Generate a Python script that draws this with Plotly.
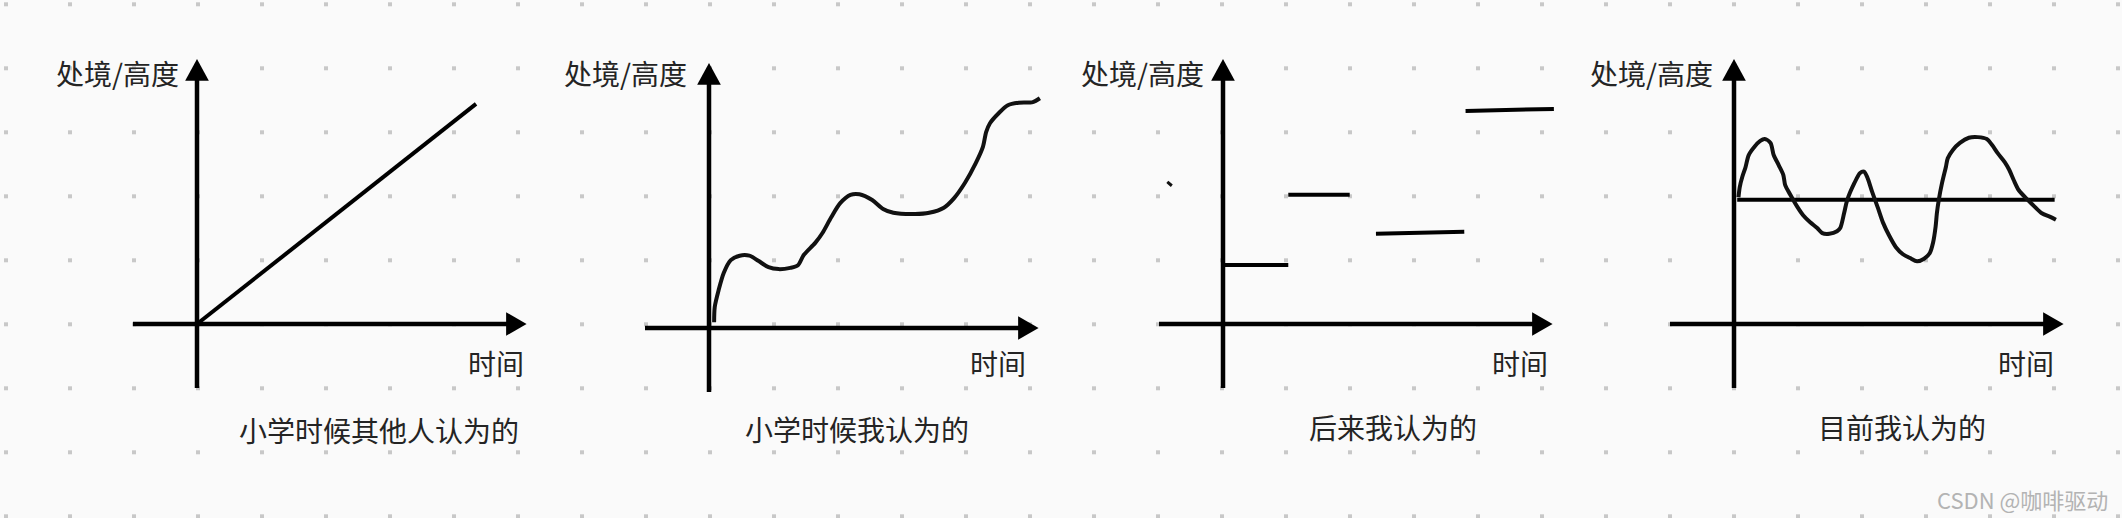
import numpy as np
import plotly.graph_objects as go

W, H = 2122, 518
UNIT = 64  # pixels per grid unit

# ---------------- data (grid units: time, height) ----------------
panel_captions = ["小学时候其他人认为的", "小学时候我认为的", "后来我认为的", "目前我认为的"]
y_label = "处境/高度"
x_label = "时间"

# Panel 1: others' view (straight line)
p1_t = [0.0, 4.36]
p1_h = [0.0, 3.44]

# Panel 2: my view as a child (wavy rise)
p2_t = [0.08, 0.09, 0.15, 0.23, 0.34, 0.48, 0.63, 0.77, 0.93, 1.09, 1.27, 1.39, 1.48,
        1.66, 1.77, 1.91, 2.05, 2.21, 2.35, 2.55, 2.72, 2.88, 3.22, 3.44, 3.67, 3.83,
        4.00, 4.17, 4.28, 4.33, 4.39, 4.53, 4.67, 4.84, 5.06, 5.17]
p2_h = [0.09, 0.33, 0.59, 0.86, 1.06, 1.13, 1.13, 1.05, 0.95, 0.92, 0.94, 0.98, 1.14,
        1.33, 1.48, 1.73, 1.95, 2.08, 2.09, 2.00, 1.86, 1.80, 1.78, 1.80, 1.88, 2.03,
        2.27, 2.58, 2.83, 3.06, 3.20, 3.36, 3.48, 3.52, 3.53, 3.59]

# Panel 3: later view (steps)
p3_seg_t0 = [0.0, 1.02, 2.39, 3.79]
p3_seg_t1 = [1.02, 1.98, 3.77, 5.17]
p3_seg_h0 = [0.92, 2.02, 1.41, 3.33]
p3_seg_h1 = [0.92, 2.02, 1.44, 3.36]
p3_tick_t = [-0.87, -0.80]
p3_tick_h = [2.22, 2.16]

# Panel 4: current view (oscillating around a level)
p4_level_t = [0.05, 5.01]
p4_level_h = [1.94, 1.94]
p4_t = [0.07, 0.09, 0.13, 0.18, 0.23, 0.32, 0.41, 0.48, 0.57, 0.62, 0.70, 0.77, 0.80,
        0.88, 0.99, 1.08, 1.19, 1.30, 1.38, 1.49, 1.61, 1.66, 1.72, 1.77, 1.88, 1.97,
        2.03, 2.08, 2.16, 2.25, 2.33, 2.42, 2.53, 2.64, 2.75, 2.86, 2.97, 3.06, 3.11,
        3.15, 3.17, 3.20, 3.25, 3.31, 3.34, 3.42, 3.53, 3.67, 3.81, 3.95, 4.03, 4.12,
        4.23, 4.30, 4.37, 4.45, 4.59, 4.70, 4.81, 4.95, 5.03]
p4_h = [1.98, 2.14, 2.30, 2.45, 2.64, 2.77, 2.86, 2.89, 2.83, 2.64, 2.48, 2.33, 2.17,
        2.02, 1.83, 1.70, 1.59, 1.50, 1.42, 1.41, 1.45, 1.50, 1.73, 1.94, 2.20, 2.36,
        2.38, 2.30, 2.06, 1.81, 1.58, 1.39, 1.20, 1.09, 1.03, 0.98, 1.02, 1.11, 1.27,
        1.52, 1.73, 1.94, 2.20, 2.45, 2.59, 2.72, 2.83, 2.91, 2.92, 2.89, 2.80, 2.67,
        2.53, 2.41, 2.25, 2.09, 1.94, 1.83, 1.73, 1.67, 1.63]

# ---------------- layout of panels (pixels) ----------------
origins = [(197, 324), (709, 328), (1223, 324), (1734, 324)]
domains_px = [(0, 540), (540, 1070), (1070, 1590), (1590, W)]
ylabel_right_px = [180.5, 689, 1206, 1715]
xlabel_right_px = [526, 1028, 1550, 2056]
caption_center_px = [378.5, 857, 1393, 1902]
caption_y_px = [430, 429, 427, 427]
YLABEL_Y_PX = 72.5
XLABEL_Y_PX = 363

AX_MIN = -1.0
X_BASE, X_TIP = 4.83, 5.15
Y_BASE, Y_TIP = 3.80, 4.14
HALF = 0.185

FONT = "Noto Sans CJK SC"
TXT = "#242424"
LW_AXIS = 4.5
LW_CURVE = 4

fig = go.Figure()

# background dot grid on a full-figure pixel subplot
gx = np.arange(6, W, 64)
gy = np.arange(4.3, H, 64)
GX, GY = np.meshgrid(gx, gy)
fig.add_trace(go.Scatter(x=GX.ravel(), y=GY.ravel(), mode="markers",
                         marker=dict(symbol="square", size=4, color="#c8c8c8", line_width=0),
                         hoverinfo="skip", showlegend=False, xaxis="x", yaxis="y"))

layout_axes = dict(
    xaxis=dict(domain=[0, 1], range=[0, W], visible=False, fixedrange=True),
    yaxis=dict(domain=[0, 1], range=[H, 0], visible=False, fixedrange=True),
)

shapes = []
annotations = []
txt_font = dict(family=FONT, size=28, color=TXT)

for i, ((ox, oy), (a, b)) in enumerate(zip(origins, domains_px)):
    k = i + 2
    xa, ya = f"x{k}", f"y{k}"
    layout_axes[f"xaxis{k}"] = dict(domain=[a / W, b / W], range=[(a - ox) / UNIT, (b - ox) / UNIT],
                                    visible=False, fixedrange=True, anchor=ya)
    layout_axes[f"yaxis{k}"] = dict(domain=[0, 1], range=[(oy - H) / UNIT, oy / UNIT],
                                    visible=False, fixedrange=True, anchor=xa)
    # axes with arrows
    shapes.append(dict(type="line", xref=xa, yref=ya, x0=AX_MIN, y0=0, x1=X_BASE + 0.02, y1=0,
                       line=dict(color="black", width=LW_AXIS)))
    shapes.append(dict(type="line", xref=xa, yref=ya, x0=0, y0=AX_MIN, x1=0, y1=Y_BASE + 0.02,
                       line=dict(color="black", width=LW_AXIS)))
    shapes.append(dict(type="path", xref=xa, yref=ya,
                       path=f"M{X_BASE},{-HALF} L{X_TIP},0 L{X_BASE},{HALF} Z",
                       fillcolor="black", line=dict(width=0)))
    shapes.append(dict(type="path", xref=xa, yref=ya,
                       path=f"M{-HALF},{Y_BASE} L0,{Y_TIP} L{HALF},{Y_BASE} Z",
                       fillcolor="black", line=dict(width=0)))
    annotations.append(dict(xref=xa, yref=ya, x=(ylabel_right_px[i] - ox) / UNIT, y=(oy - YLABEL_Y_PX) / UNIT,
                            text=y_label, showarrow=False, xanchor="right", yanchor="middle", font=txt_font))
    annotations.append(dict(xref=xa, yref=ya, x=(xlabel_right_px[i] - ox) / UNIT, y=(oy - XLABEL_Y_PX) / UNIT,
                            text=x_label, showarrow=False, xanchor="right", yanchor="middle", font=txt_font))
    annotations.append(dict(xref=xa, yref=ya, x=(caption_center_px[i] - ox) / UNIT, y=(oy - caption_y_px[i]) / UNIT,
                            text=panel_captions[i], showarrow=False, xanchor="center", yanchor="middle",
                            font=txt_font))

line_style = dict(color="#111111", width=LW_CURVE)

fig.add_trace(go.Scatter(x=p1_t, y=p1_h, mode="lines", line=dict(color="black", width=LW_CURVE),
                         xaxis="x2", yaxis="y2", showlegend=False, hoverinfo="skip"))
fig.add_trace(go.Scatter(x=p2_t, y=p2_h, mode="lines", line=dict(shape="spline", smoothing=0.8, **line_style),
                         xaxis="x3", yaxis="y3", showlegend=False, hoverinfo="skip"))
for t0, t1, h0, h1 in zip(p3_seg_t0, p3_seg_t1, p3_seg_h0, p3_seg_h1):
    fig.add_trace(go.Scatter(x=[t0, t1], y=[h0, h1], mode="lines", line=dict(color="black", width=LW_CURVE),
                             xaxis="x4", yaxis="y4", showlegend=False, hoverinfo="skip"))
fig.add_trace(go.Scatter(x=p3_tick_t, y=p3_tick_h, mode="lines", line=dict(color="#111111", width=3),
                         xaxis="x4", yaxis="y4", showlegend=False, hoverinfo="skip"))
fig.add_trace(go.Scatter(x=p4_level_t, y=p4_level_h, mode="lines", line=dict(color="black", width=LW_CURVE),
                         xaxis="x5", yaxis="y5", showlegend=False, hoverinfo="skip"))
fig.add_trace(go.Scatter(x=p4_t, y=p4_h, mode="lines", line=dict(shape="spline", smoothing=0.8, **line_style),
                         xaxis="x5", yaxis="y5", showlegend=False, hoverinfo="skip"))

annotations.append(dict(xref="paper", yref="paper", x=2110 / W, y=1 - 499 / H, text="CSDN @咖啡驱动",
                        showarrow=False, xanchor="right", yanchor="middle",
                        font=dict(family=FONT, size=22, color="#b3b3b3")))

fig.update_layout(
    width=W, height=H, margin=dict(l=0, r=0, t=0, b=0),
    paper_bgcolor="#fafafa", plot_bgcolor="rgba(0,0,0,0)",
    showlegend=False, shapes=shapes, annotations=annotations,
    **layout_axes,
)

fig.write_html("out.html", config={"displayModeBar": False},
               post_script="document.body.style.margin='0';document.body.style.background='#fafafa';document.body.style.overflow='hidden';")
